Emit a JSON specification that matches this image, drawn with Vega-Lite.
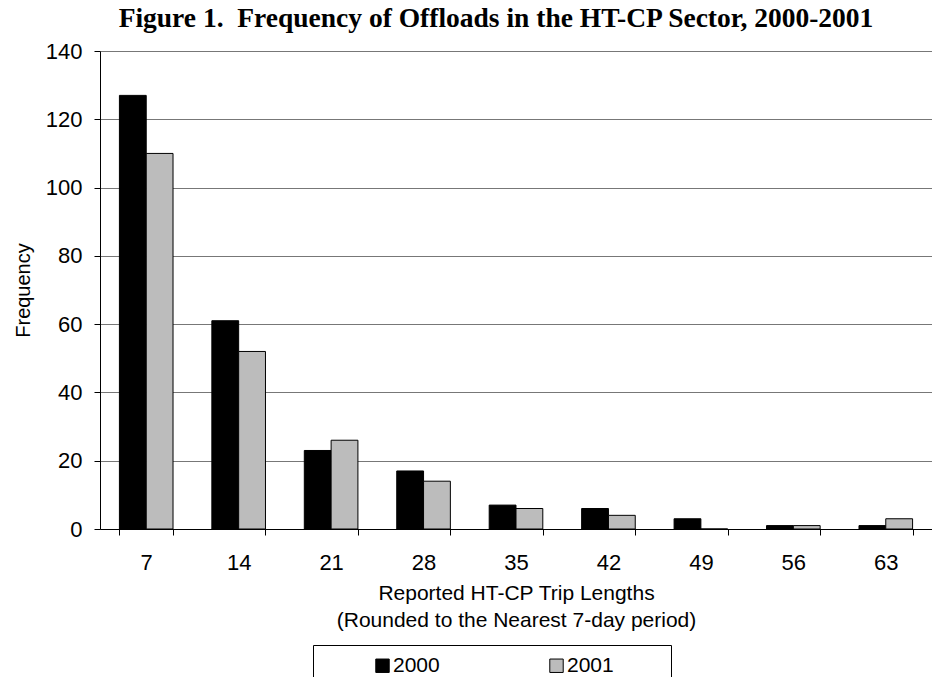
{
  "$schema": "https://vega.github.io/schema/vega-lite/v6.json",
  "autosize": {"type": "none"},
  "padding": {"left": 100, "top": 51, "right": 0, "bottom": 148},
  "width": 832,
  "height": 478,
  "background": "white",
  "title": {
    "text": "Figure 1.\u00a0 Frequency of Offloads in the HT-CP Sector, 2000-2001",
    "font": "Liberation Serif",
    "fontSize": 27.5,
    "fontWeight": "bold",
    "color": "black",
    "anchor": "middle",
    "frame": "group",
    "dx": -20,
    "offset": 8
  },
  "data": {
    "values": [
      {"days": 7, "year": "2000", "count": 127},
      {"days": 7, "year": "2001", "count": 110},
      {"days": 14, "year": "2000", "count": 61},
      {"days": 14, "year": "2001", "count": 52},
      {"days": 21, "year": "2000", "count": 23},
      {"days": 21, "year": "2001", "count": 26},
      {"days": 28, "year": "2000", "count": 17},
      {"days": 28, "year": "2001", "count": 14},
      {"days": 35, "year": "2000", "count": 7},
      {"days": 35, "year": "2001", "count": 6},
      {"days": 42, "year": "2000", "count": 6},
      {"days": 42, "year": "2001", "count": 4},
      {"days": 49, "year": "2000", "count": 3},
      {"days": 49, "year": "2001", "count": 0},
      {"days": 56, "year": "2000", "count": 1},
      {"days": 56, "year": "2001", "count": 1},
      {"days": 63, "year": "2000", "count": 1},
      {"days": 63, "year": "2001", "count": 3}
    ]
  },
  "mark": {"type": "bar", "stroke": "black", "strokeWidth": 1},
  "encoding": {
    "x": {
      "field": "days",
      "type": "ordinal",
      "scale": {"paddingInner": 0.42, "paddingOuter": 0.21},
      "axis": {
        "tickBand": "extent",
        "labelAngle": 0,
        "labelFont": "Liberation Sans",
        "labelFontSize": 22,
        "labelColor": "black",
        "labelPadding": 17,
        "tickSize": 6,
        "tickColor": "black",
        "domainColor": "black",
        "grid": false,
        "title": ["Reported HT-CP Trip Lengths", "(Rounded to the Nearest 7-day period)"],
        "titleFont": "Liberation Sans",
        "titleFontSize": 21,
        "titleFontWeight": "normal",
        "titleColor": "black",
        "titlePadding": 9,
        "titleLineHeight": 27
      }
    },
    "xOffset": {"field": "year", "type": "nominal"},
    "y": {
      "field": "count",
      "type": "quantitative",
      "scale": {"domain": [0, 140], "nice": false},
      "axis": {
        "values": [0, 20, 40, 60, 80, 100, 120, 140],
        "labelFont": "Liberation Sans",
        "labelFontSize": 22,
        "labelColor": "black",
        "labelPadding": 12,
        "tickSize": 6,
        "tickColor": "black",
        "domainColor": "black",
        "grid": true,
        "gridColor": "#777777",
        "gridWidth": 1,
        "title": "Frequency",
        "titleFont": "Liberation Sans",
        "titleFontSize": 20,
        "titleFontWeight": "normal",
        "titleColor": "black",
        "titlePadding": 12
      }
    },
    "color": {
      "field": "year",
      "type": "nominal",
      "scale": {"range": ["black", "#bcbcbc"]},
      "legend": {
        "orient": "none",
        "legendX": 213,
        "legendY": 594,
        "direction": "horizontal",
        "title": null,
        "strokeColor": "black",
        "fillColor": "white",
        "padding": 10,
        "symbolType": "square",
        "symbolSize": 180,
        "symbolStrokeColor": "black",
        "symbolStrokeWidth": 1,
        "symbolOpacity": 1,
        "symbolOffset": 49,
        "labelFont": "Liberation Sans",
        "labelFontSize": 21,
        "labelColor": "black",
        "labelOffset": 0,
        "labelExpr": "datum.label + '\u00a0\u00a0\u00a0\u00a0\u00a0\u00a0\u00a0\u00a0\u200b'",
        "columnPadding": 10
      }
    }
  },
  "config": {"view": {"stroke": null}}
}
